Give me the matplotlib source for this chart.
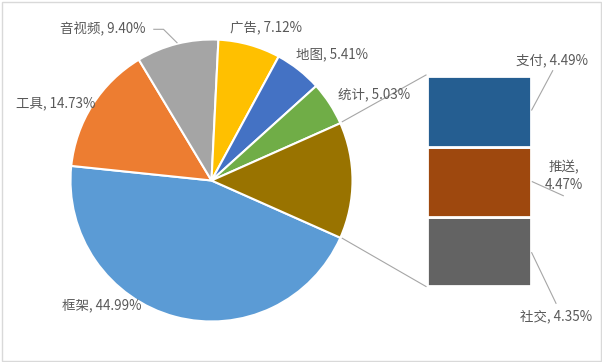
import matplotlib
matplotlib.use("Agg")
import matplotlib.pyplot as plt
from matplotlib.patches import Rectangle

plt.rcParams['font.family'] = ['Noto Sans CJK SC', 'DejaVu Sans']

# ---- data ----
pie_labels = ['框架', '工具', '音视频', '广告', '地图', '统计']
pie_values = [44.99, 14.73, 9.40, 7.12, 5.41, 5.03]
pie_colors = ['#5B9BD5', '#ED7D31', '#A5A5A5', '#FFC000', '#4472C4', '#70AD47']
other_color = '#997300'

bar_labels = ['支付', '推送', '社交']
bar_values = [4.49, 4.47, 4.35]
bar_colors = ['#255E91', '#9E480E', '#636363']

TEXT = '#595959'
LINE = '#A6A6A6'

W, H = 602, 362
fig = plt.figure(figsize=(W / 100, H / 100), dpi=100)
ax = fig.add_axes([0, 0, 1, 1])

other_total = sum(bar_values)
vals = pie_values + [other_total]
cols = pie_colors + [other_color]
total = sum(vals)
start = -other_total / total * 180.0

cx, cy, R = 211.5, H - 180.5, 141
ax.pie(vals, colors=cols, startangle=start, counterclock=False,
       center=(cx, cy), radius=R, frame=True,
       wedgeprops=dict(edgecolor='white', linewidth=1.5))

# ---- stacked bar (bottom to top: 社交, 推送, 支付) ----
bar_x, bar_w = 479, 104
bar_bottom = H - 286
scale = 210.3 / other_total
bottom = bar_bottom
for lab, v, c in zip(bar_labels[::-1], bar_values[::-1], bar_colors[::-1]):
    ax.bar(bar_x, v * scale, bottom=bottom, width=bar_w, color=c,
           edgecolor='white', linewidth=2)
    bottom += v * scale

# connector lines
ax.plot([342.3, 426], [H - 121.7, H - 75], color=LINE, lw=0.8)
ax.plot([342.3, 426], [H - 238.3, H - 286.5], color=LINE, lw=0.8)

# ---- labels ----
fs = 9.7
def lab(x, y, s, ha='left'):
    ax.text(x, H - y, s, fontsize=fs, color=TEXT, ha=ha, va='center')

lab(59.5, 29, f'{pie_labels[2]}, {pie_values[2]:.2f}%')
lab(230, 27, f'{pie_labels[3]}, {pie_values[3]:.2f}%')
lab(296, 54.5, f'{pie_labels[4]}, {pie_values[4]:.2f}%')
lab(338, 94, f'{pie_labels[5]}, {pie_values[5]:.2f}%')
lab(16, 103, f'{pie_labels[1]}, {pie_values[1]:.2f}%')
lab(61.5, 305, f'{pie_labels[0]}, {pie_values[0]:.2f}%')

lab(516.5, 60, f'{bar_labels[0]}, {bar_values[0]:.2f}%')
ax.text(564, H - 167, f'{bar_labels[1]},', fontsize=fs, color=TEXT, ha='center', va='center')
ax.text(564, H - 185, f'{bar_values[1]:.2f}%', fontsize=fs, color=TEXT, ha='center', va='center')
lab(520, 316.5, f'{bar_labels[2]}, {bar_values[2]:.2f}%')

# leader lines
ax.plot([153.8, 163.5, 177], [H - 29.3, H - 29.3, H - 42.7], color=LINE, lw=0.8)
ax.plot([531.7, 552.7], [H - 110, H - 70.7], color=LINE, lw=0.8)
ax.plot([532.3, 563.3], [H - 181.7, H - 195.7], color=LINE, lw=0.8)
ax.plot([531.7, 556], [H - 252.7, H - 303.3], color=LINE, lw=0.8)

# chart border
ax.add_patch(Rectangle((1.5, 1.5), W - 3, H - 3, fill=False,
                       edgecolor='#D9D9D9', lw=1))

ax.set_xlim(0, W)
ax.set_ylim(0, H)
ax.set_aspect('auto')
ax.axis('off')

fig.savefig('out.png', dpi=100, facecolor='white')
